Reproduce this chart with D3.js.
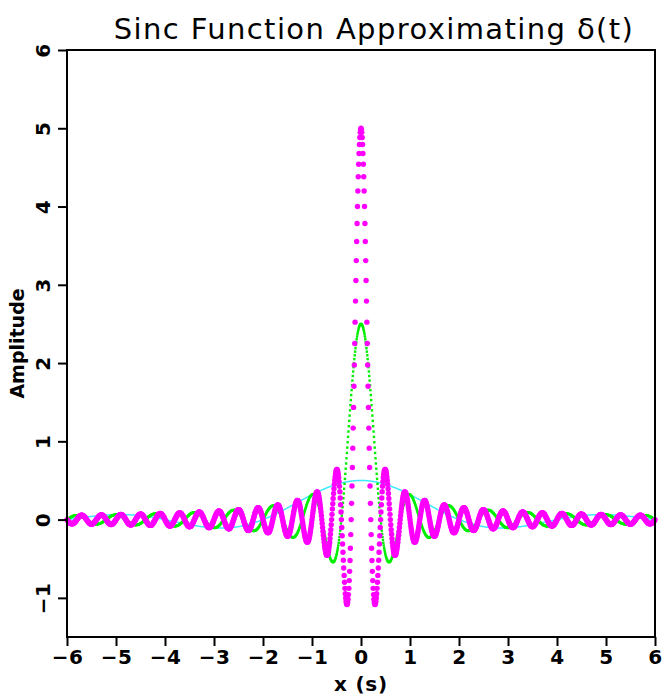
<!DOCTYPE html>
<html><head><meta charset="utf-8">
<script src="https://cdn.jsdelivr.net/npm/d3@7"></script>
<style>body{margin:0;background:#fff}svg{display:block}</style>
</head><body>
<svg id="chart" width="662" height="696"></svg>
<script>
// ---- data ----
const xTicks = [-6,-5,-4,-3,-2,-1,0,1,2,3,4,5,6];
const yTicks = [-1,0,1,2,3,4,5,6];
const xDomain = [-6, 6];
const yDomain = [-1.5, 6];
const seriesNames = ["cyan", "green", "magenta"];
// each series is sin(a t)/(pi t); value at t = 0 (a/pi)
const seriesPeak = [0.5, 2.5, 5.0];
// sample spacing of the plotted points, read from the dot spacing
const sampleStep = 0.008;
const titleText = "Sinc Function Approximating \u03B4(t)";
const xLabel = "x (s)";
const yLabel = "Amplitude";

// ---- build series ----
const nHalf = Math.round(xDomain[1] / sampleStep);
const tValues = d3.range(-nHalf, nHalf + 1).map(k => k * sampleStep);
const series = seriesPeak.map((p, i) => {
  const a = p * Math.PI;
  return {name: seriesNames[i], pts: tValues.map(t => ({t, v: Math.abs(t) < 1e-12 ? p : Math.sin(a * t) / (Math.PI * t)}))};
});

// ---- layout ----
const L = 67, R = 655, T = 50, B = 637;
const svg = d3.select("#chart");
const x = d3.scaleLinear().domain(xDomain).range([L, R]);
const y = d3.scaleLinear().domain(yDomain).range([B, T]);

const font = "'DejaVu Sans', Verdana, sans-serif";

// title
svg.append("text").attr("x", 374).attr("y", 39).attr("text-anchor", "middle")
  .attr("font-family", font).attr("font-size", 29).attr("letter-spacing", 1.4)
  .attr("fill", "#000").text(titleText);

// curves
const plot = svg.append("g");
plot.append("path").datum(series[0].pts)
  .attr("fill", "none").attr("stroke", "#40e8ff").attr("stroke-width", 1.5)
  .attr("d", d3.line().x(d => x(d.t)).y(d => y(d.v)));
plot.append("g").selectAll("rect").data(series[1].pts).join("rect")
  .attr("x", d => x(d.t) - 1.2).attr("y", d => y(d.v) - 1.2)
  .attr("width", 2.4).attr("height", 2.4).attr("fill", "#00ee00");
plot.append("g").selectAll("circle").data(series[2].pts).join("circle")
  .attr("cx", d => x(d.t)).attr("cy", d => y(d.v)).attr("r", 2.7).attr("fill", "#ff00ff");

// frame
svg.append("rect").attr("x", L).attr("y", T).attr("width", R - L).attr("height", B - T)
  .attr("fill", "none").attr("stroke", "#000").attr("stroke-width", 2);

// axes
const xAxis = svg.append("g").attr("transform", `translate(0,${B})`)
  .call(d3.axisBottom(x).tickValues(xTicks).tickSize(9).tickPadding(4).tickFormat(d3.format("d")));
xAxis.select(".domain").remove();
xAxis.selectAll("line").attr("stroke-width", 2);
xAxis.selectAll("text").attr("font-family", font).attr("font-size", 20).attr("font-weight", "bold")
  .attr("letter-spacing", 0.5).attr("fill", "#000");

const yAxis = svg.append("g").attr("transform", `translate(${L},0)`)
  .call(d3.axisLeft(y).tickValues(yTicks).tickSize(9).tickFormat(d3.format("d")));
yAxis.select(".domain").remove();
yAxis.selectAll("line").attr("stroke-width", 2);
yAxis.selectAll("text")
  .attr("font-family", font).attr("font-size", 20).attr("font-weight", "bold").attr("fill", "#000")
  .attr("letter-spacing", 0.5)
  .attr("x", null).attr("dy", null).attr("text-anchor", "middle")
  .attr("transform", "translate(-17,0) rotate(-90)");

// axis labels
svg.append("text").attr("x", x(0)).attr("y", 691).attr("text-anchor", "middle")
  .attr("font-family", font).attr("font-size", 20).attr("font-weight", "bold")
  .attr("letter-spacing", 0.8).text(xLabel);
svg.append("text").attr("transform", `translate(24,${y(2.25)}) rotate(-90)`).attr("text-anchor", "middle")
  .attr("font-family", font).attr("font-size", 19).attr("font-weight", "bold").text(yLabel);
</script>
</body></html>
